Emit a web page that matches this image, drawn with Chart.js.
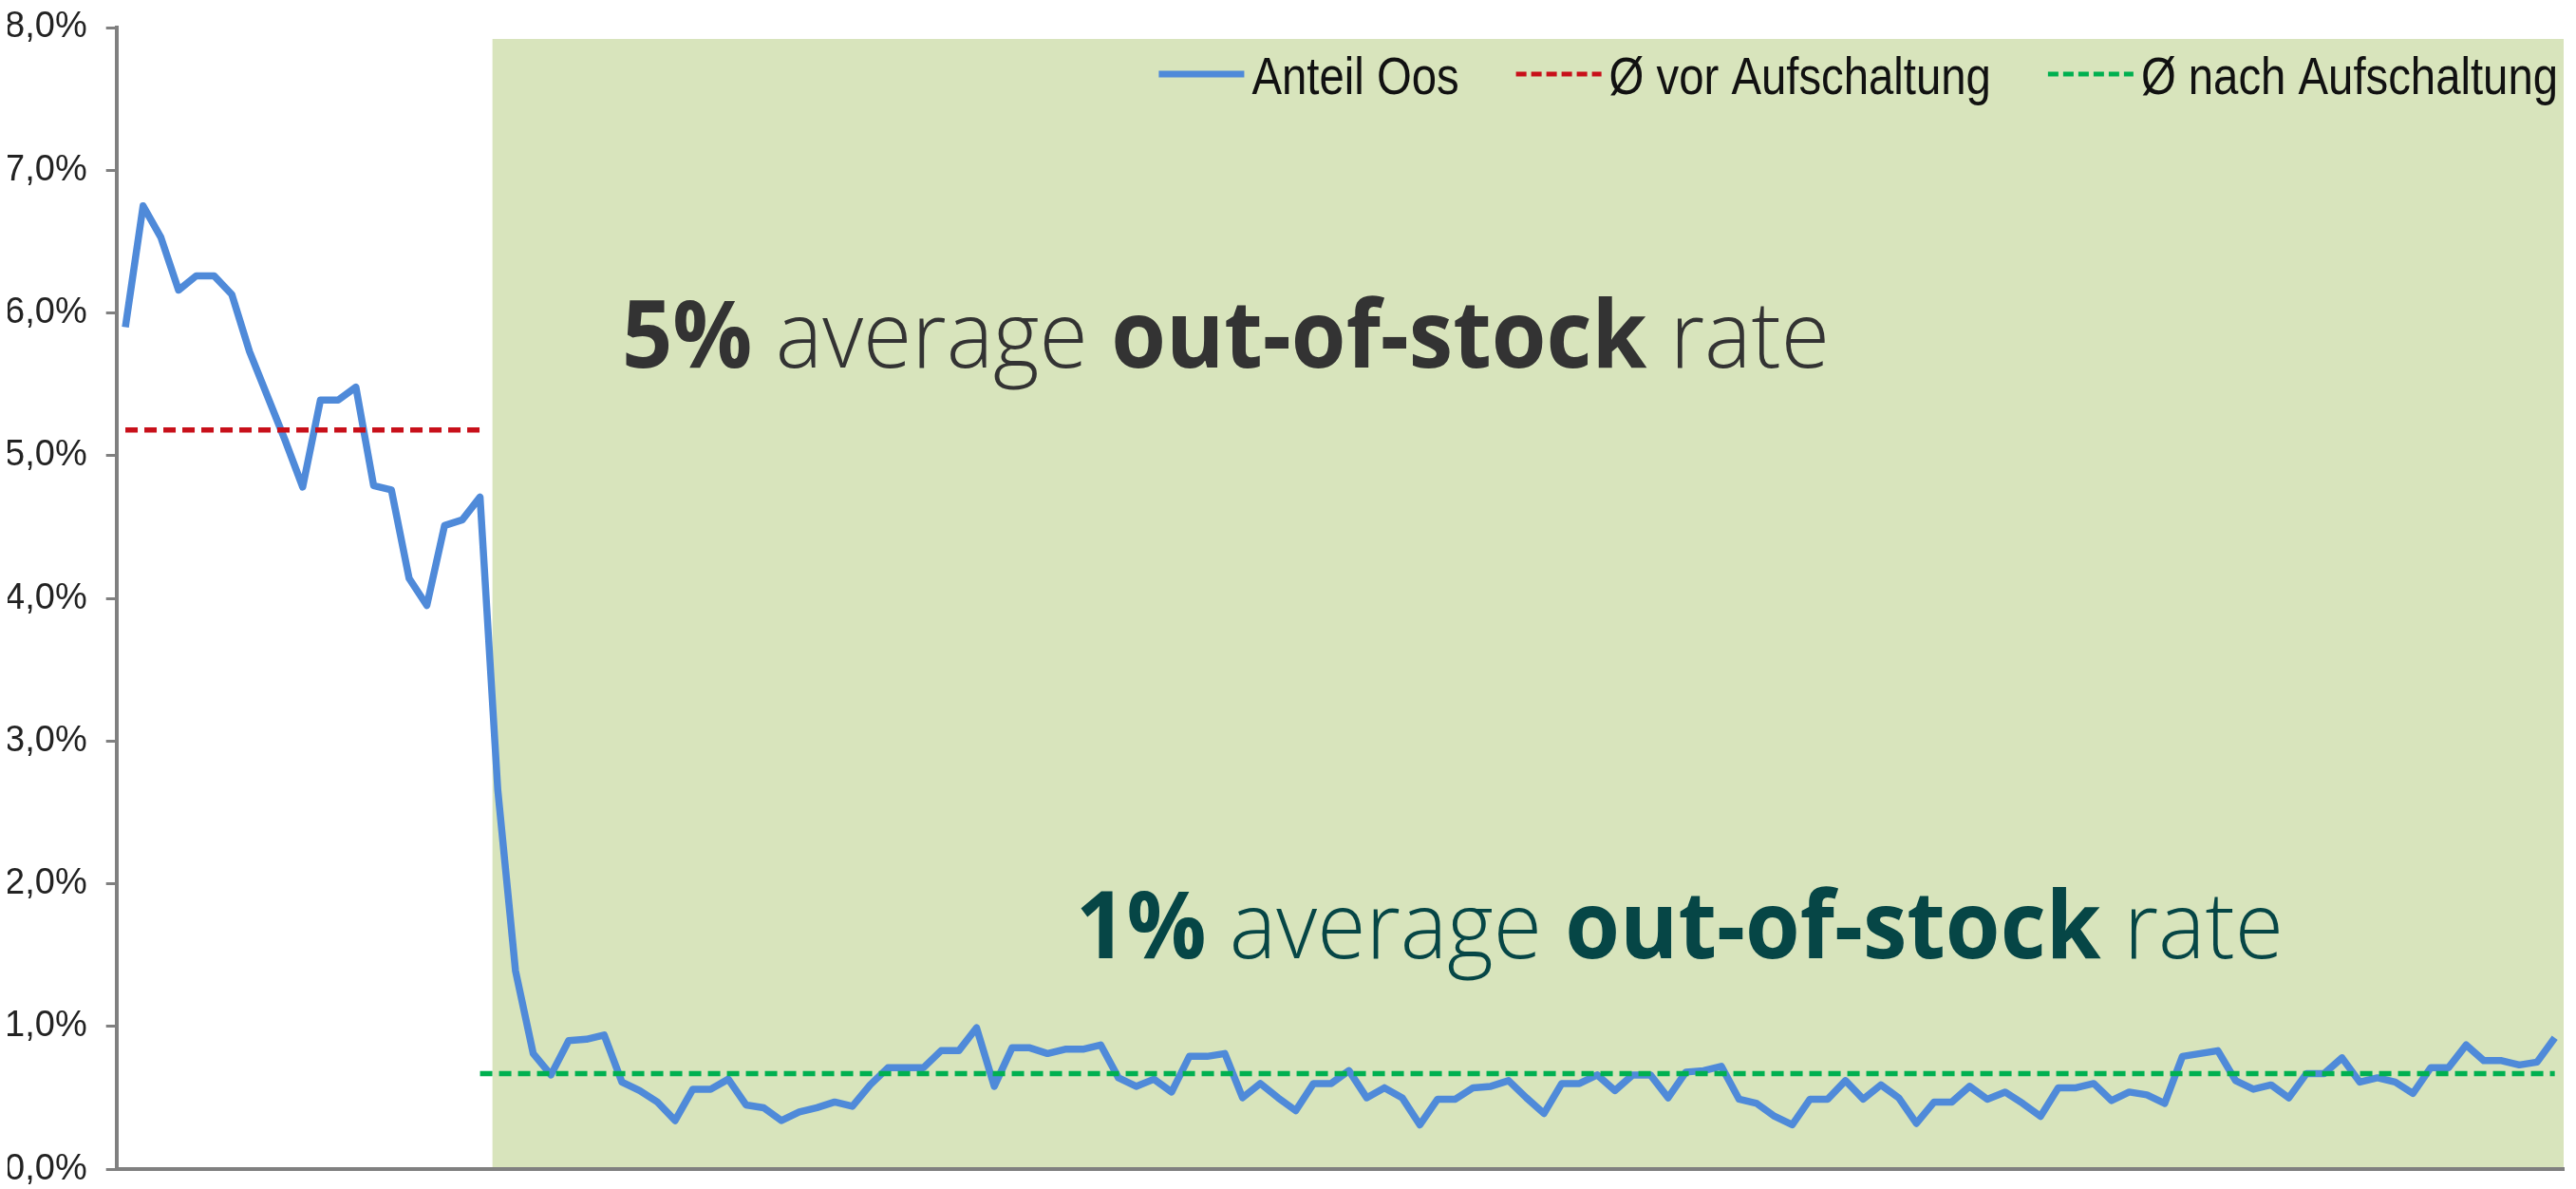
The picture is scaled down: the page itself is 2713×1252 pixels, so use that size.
<!DOCTYPE html>
<html>
<head>
<meta charset="utf-8">
<script src="https://cdn.jsdelivr.net/npm/chart.js@4.4.1/dist/chart.umd.min.js"></script>
<style>
  html, body { margin: 0; padding: 0; background: #fff; }
  canvas { display: block; }
</style>
</head>
<body>
<canvas id="oosChart" width="2713" height="1252"></canvas>
<script>
// one point per week, x axis carries no labels
const weeks = Array.from({ length: 138 }, (_, i) => 'KW ' + (i + 1));

// share of out-of-stock (%)
const anteilOos = [
  5.90, 6.75, 6.53, 6.16, 6.26, 6.26, 6.13, 5.73, 5.42, 5.11,
  4.78, 5.39, 5.39, 5.48, 4.79, 4.76, 4.14, 3.95, 4.51, 4.55,
  4.71, 2.66, 1.39, 0.81, 0.66, 0.90, 0.91, 0.94, 0.61, 0.55,
  0.47, 0.34, 0.56, 0.56, 0.63, 0.45, 0.43, 0.34, 0.40, 0.43,
  0.47, 0.44, 0.59, 0.71, 0.71, 0.71, 0.83, 0.83, 0.99, 0.58,
  0.85, 0.85, 0.81, 0.84, 0.84, 0.87, 0.64, 0.58, 0.63, 0.54,
  0.79, 0.79, 0.81, 0.50, 0.60, 0.50, 0.41, 0.60, 0.60, 0.69,
  0.50, 0.57, 0.50, 0.31, 0.49, 0.49, 0.57, 0.58, 0.62, 0.50,
  0.39, 0.60, 0.60, 0.66, 0.55, 0.66, 0.66, 0.50, 0.68, 0.69,
  0.72, 0.49, 0.46, 0.37, 0.31, 0.49, 0.49, 0.62, 0.49, 0.59,
  0.50, 0.32, 0.47, 0.47, 0.58, 0.49, 0.54, 0.46, 0.37, 0.57,
  0.57, 0.60, 0.48, 0.54, 0.52, 0.46, 0.79, 0.81, 0.83, 0.62,
  0.56, 0.59, 0.50, 0.67, 0.67, 0.78, 0.61, 0.64, 0.61, 0.53,
  0.71, 0.71, 0.87, 0.76, 0.76, 0.73, 0.75, 0.92
];

const avgBefore = 5.18;   // Ø vor Aufschaltung
const avgAfter = 0.67;    // Ø nach Aufschaltung
const switchWeek = 20;    // index where the "before" average ends and "after" begins

const yTickLabels = ['0,0%', '1,0%', '2,0%', '3,0%', '4,0%', '5,0%', '6,0%', '7,0%', '8,0%'];

// shaded "after" period and the two callouts (in data units)
const shadeFrom = 20.7;
const shadeTop = 7.92;
const notes = [
  { x: 28.0, y: 5.62, color: '#333333', parts: ['5%', ' average ', 'out-of-stock', ' rate'] },
  { x: 53.6, y: 1.475, color: '#064646', parts: ['1%', ' average ', 'out-of-stock', ' rate'] }
];

const beforeLine = weeks.map((_, i) => i <= switchWeek ? avgBefore : null);
const afterLine = weeks.map((_, i) => i >= switchWeek ? avgAfter : null);

// draws text squeezed horizontally, returns drawn width
function drawSqueezed(ctx, runs, x, y, sx) {
  ctx.save();
  ctx.translate(x, y);
  ctx.scale(sx, 1);
  let cx = 0;
  runs.forEach(r => {
    ctx.font = r.font;
    ctx.fillStyle = r.color;
    ctx.fillText(r.text, cx, 0);
    cx += ctx.measureText(r.text).width;
  });
  ctx.restore();
  return cx * sx;
}

function measureRuns(ctx, runs) {
  let w = 0;
  runs.forEach(r => { ctx.font = r.font; w += ctx.measureText(r.text).width; });
  return w;
}

const shadePlugin = {
  id: 'shade',
  beforeDraw(chart) {
    const { ctx, chartArea, scales: { x, y } } = chart;
    const left = x.getPixelForValue(shadeFrom);
    const top = y.getPixelForValue(shadeTop);
    ctx.save();
    ctx.fillStyle = '#d8e4bc';
    ctx.fillRect(left, top, chartArea.right - left, chartArea.bottom - top);
    ctx.restore();
  }
};

const notesPlugin = {
  id: 'notes',
  afterDraw(chart) {
    const { ctx, chartArea, scales: { x, y } } = chart;
    ctx.save();
    ctx.textBaseline = 'alphabetic';
    ctx.textAlign = 'left';

    // callouts
    notes.forEach(n => {
      const runs = n.parts.map((t, i) => ({
        text: t,
        color: n.color,
        font: (i % 2 === 0 ? '700 ' : '300 ') + '98px "Open Sans"'
      }));
      const natural = measureRuns(ctx, runs);
      drawSqueezed(ctx, runs, x.getPixelForValue(n.x), y.getPixelForValue(n.y), 1272 / natural);
    });

    // legend, top right inside the plot
    const sx = 0.86;
    const legendFont = '55px "Liberation Sans"';
    const items = chart.data.datasets.map(ds => ({
      label: ds.label, color: ds.borderColor, dash: ds.borderDash || []
    }));
    ctx.font = legendFont;
    const widths = items.map(it => ctx.measureText(it.label).width * sx);
    const gap = 60;
    const total = widths.reduce((a, b) => a + b, 0) + items.length * 98 + (items.length - 1) * gap;
    let lx = chartArea.right - 6 - total;
    const ly = 99;
    items.forEach((it, i) => {
      ctx.save();
      ctx.strokeStyle = it.color;
      ctx.lineWidth = it.dash.length ? 5 : 7;
      ctx.setLineDash(it.dash.length ? [11, 5] : []);
      ctx.beginPath();
      ctx.moveTo(lx, ly - 21);
      ctx.lineTo(lx + 90, ly - 21);
      ctx.stroke();
      ctx.restore();
      drawSqueezed(ctx, [{ text: it.label, font: legendFont, color: '#111111' }], lx + 98, ly, sx);
      lx += 98 + widths[i] + gap;
    });
    ctx.restore();
  }
};

new Chart(document.getElementById('oosChart'), {
  type: 'line',
  data: {
    labels: weeks,
    datasets: [
      {
        label: 'Anteil Oos',
        data: anteilOos,
        borderColor: '#4f8ad9',
        borderWidth: 7.5,
        pointRadius: 0,
        tension: 0,
        borderJoinStyle: 'round',
        order: 2
      },
      {
        label: 'Ø vor Aufschaltung',
        data: beforeLine,
        borderColor: '#c8101a',
        borderWidth: 5.5,
        borderDash: [13, 7],
        pointRadius: 0,
        spanGaps: false,
        order: 1
      },
      {
        label: 'Ø nach Aufschaltung',
        data: afterLine,
        borderColor: '#00b050',
        borderWidth: 5.5,
        borderDash: [13, 7],
        pointRadius: 0,
        spanGaps: false,
        order: 1
      }
    ]
  },
  options: {
    responsive: false,
    animation: false,
    devicePixelRatio: 1,
    layout: { padding: { left: 8, right: 13, top: 29, bottom: 0 } },
    plugins: {
      legend: { display: false },
      tooltip: { enabled: false }
    },
    scales: {
      x: {
        offset: true,
        ticks: { display: false },
        grid: { display: false },
        border: { display: true, color: '#808080', width: 4 }
      },
      y: {
        min: 0,
        max: 8,
        afterFit: scale => { scale.width = 114.7; },
        ticks: {
          stepSize: 1,
          padding: 20,
          color: '#222222',
          font: { family: 'Liberation Sans', size: 38, lineHeight: 0.05 },
          callback: (v, i) => yTickLabels[i]
        },
        grid: { display: true, drawOnChartArea: false, drawTicks: true, tickLength: 11, color: '#808080', lineWidth: 3 },
        border: { display: true, color: '#808080', width: 4 }
      }
    }
  },
  plugins: [shadePlugin, notesPlugin]
});
</script>
</body>
</html>
